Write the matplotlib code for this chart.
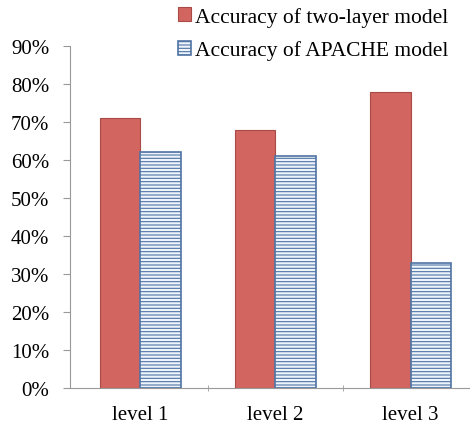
import numpy as np
import matplotlib.pyplot as plt
from matplotlib.ticker import FixedLocator, PercentFormatter

levels = ["level 1", "level 2", "level 3"]
two_layer = [0.71, 0.68, 0.78]
apache = [0.62, 0.61, 0.33]

plt.rcParams['font.family'] = ['Liberation Serif', 'DejaVu Serif']
plt.rcParams['hatch.color'] = '#5b7fb0'
plt.rcParams['hatch.linewidth'] = 0.8

fig = plt.figure(figsize=(4.7, 4.27), dpi=100)
ax = fig.add_axes([0.149, 0.089, 0.851, 0.801])

x = np.arange(len(levels))
w = 0.3
ax.bar(x - w / 2, two_layer, w, color='#d2655f', edgecolor='#a84a45', linewidth=0.8,
       label='Accuracy of two-layer model')
ax.bar(x + w / 2, apache, w, color='#eef4fb', edgecolor='#4f73a3', linewidth=1.2,
       hatch='-----', label='Accuracy of APACHE model')

ax.set_xlim(-0.52, 2.44)
ax.set_ylim(0, 0.9)
ax.set_yticks(np.arange(0, 0.91, 0.1))
ax.yaxis.set_major_formatter(PercentFormatter(1.0, decimals=0))
ax.set_xticks(x)
ax.set_xticklabels(levels)
ax.xaxis.set_minor_locator(FixedLocator([0.5, 1.5]))
ax.tick_params(axis='x', which='major', length=0, labelsize=15, pad=12)
ax.tick_params(axis='x', which='minor', length=5, color='#999999', direction='inout')
ax.tick_params(axis='y', length=5, color='#999999', labelsize=15, pad=10)

for s in ['top', 'right']:
    ax.spines[s].set_visible(False)
ax.spines['left'].set_color('#999999')
ax.spines['bottom'].set_color('#999999')

ax.legend(loc='upper left', bbox_to_anchor=(0.27, 1.115), frameon=False, fontsize=15.5,
          handlelength=0.6, handleheight=0.6, handletextpad=0.2, labelspacing=0.65,
          borderaxespad=0, borderpad=0)

plt.savefig('out.png')
